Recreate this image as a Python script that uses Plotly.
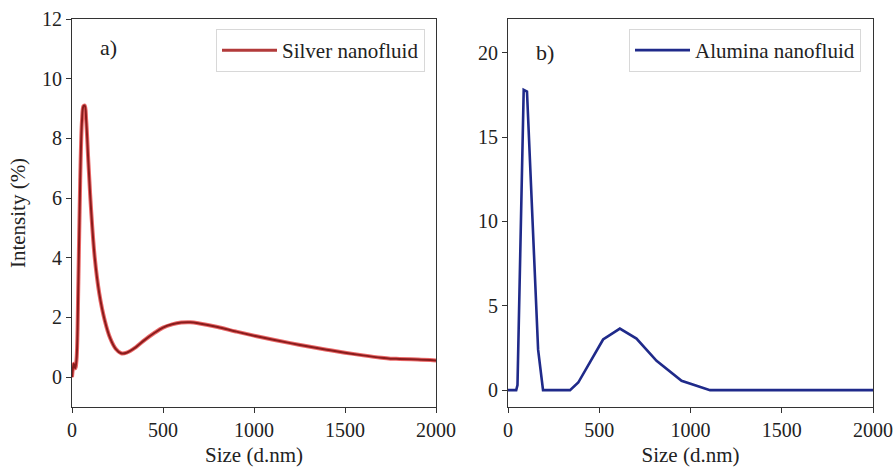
import plotly.graph_objects as go

# Silver nanofluid (panel a)
silver_size = [0, 5, 10, 18, 25, 35, 45, 55, 63, 70, 78, 90, 105, 125, 150, 180, 210, 240,
               270, 300, 350, 400, 450, 500, 550, 600, 650, 700, 800, 900, 1000, 1100,
               1200, 1300, 1400, 1500, 1600, 1700, 1750, 1800, 1900, 2000]
silver_int = [0.0, 0.3, 0.45, 0.3, 0.6, 3.2, 6.6, 8.6, 9.08, 9.1, 8.6, 7.2, 5.6, 4.0, 2.8, 1.9,
              1.3, 0.95, 0.8, 0.82, 1.0, 1.25, 1.47, 1.66, 1.77, 1.83, 1.84, 1.8, 1.68, 1.53,
              1.39, 1.26, 1.14, 1.03, 0.92, 0.82, 0.73, 0.65, 0.62, 0.61, 0.59, 0.56]

# Alumina nanofluid (panel b)
alumina_size = [0, 45, 52, 86, 104, 165, 192, 340, 385, 521, 613, 704, 814, 951, 1107, 2000]
alumina_int = [0.0, 0.0, 0.3, 17.8, 17.7, 2.4, 0.0, 0.0, 0.45, 3.0, 3.65, 3.06, 1.74, 0.55, 0.0, 0.0]

x_ticks = [0, 500, 1000, 1500, 2000]
FONT = "Liberation Serif"
AX = "#333333"

fig = go.Figure()

# silver: light red halo + dark red core
fig.add_trace(go.Scatter(x=silver_size, y=silver_int, mode="lines", line=dict(color="rgba(225,40,40,0.7)", width=4),
                         line_shape="spline", showlegend=False, hoverinfo="skip", xaxis="x", yaxis="y"))
fig.add_trace(go.Scatter(x=silver_size, y=silver_int, mode="lines", name="Silver nanofluid",
                         line=dict(color="#8a1c1c", width=2), line_shape="spline",
                         xaxis="x", yaxis="y", showlegend=False, hoverinfo="skip"))
# legend entry for silver (line sample in the lighter red of the reference legend)
fig.add_trace(go.Scatter(x=[None], y=[None], mode="lines", name="Silver nanofluid",
                         line=dict(color="#b23a3a", width=3), xaxis="x", yaxis="y", legend="legend"))
fig.add_trace(go.Scatter(x=alumina_size, y=alumina_int, mode="lines", name="Alumina nanofluid",
                         line=dict(color="#1f2a8a", width=2.6),
                         xaxis="x2", yaxis="y2", legend="legend2"))

axis_common = dict(showline=True, mirror=True, linecolor=AX, linewidth=1, ticks="outside",
                   ticklen=5, tickcolor=AX, showgrid=False, zeroline=False,
                   tickfont=dict(family=FONT, size=20, color="#222"))

fig.update_layout(
    width=893, height=467, margin=dict(l=0, r=0, t=0, b=0),
    paper_bgcolor="white", plot_bgcolor="white",
    font=dict(family=FONT, size=20, color="#222"),
    xaxis=dict(domain=[72/893, 436/893], range=[0, 2000], tickvals=x_ticks,
               title=dict(text="Size (d.nm)", standoff=9, font=dict(family=FONT, size=21)),
               anchor="y", automargin=False, **axis_common),
    yaxis=dict(domain=[1-407/467, 1-19/467], range=[-1, 12], tickvals=[0, 2, 4, 6, 8, 10, 12],
               title=dict(text="Intensity (%)", standoff=10, font=dict(family=FONT, size=21)),
               anchor="x", automargin=False, **axis_common),
    xaxis2=dict(domain=[508/893, 873/893], range=[0, 2000], tickvals=x_ticks,
                title=dict(text="Size (d.nm)", standoff=9, font=dict(family=FONT, size=21)),
                anchor="y2", automargin=False, **axis_common),
    yaxis2=dict(domain=[1-407/467, 1-19/467], range=[-1, 22], tickvals=[0, 5, 10, 15, 20],
                anchor="x2", automargin=False, **axis_common),
    legend=dict(x=425/893, y=1-29/467, xanchor="right", yanchor="top", bgcolor="white",
                bordercolor="#d8d8d8", borderwidth=1, itemwidth=55,
                font=dict(family=FONT, size=21)),
    legend2=dict(x=861/893, y=1-29/467, xanchor="right", yanchor="top", bgcolor="white",
                 bordercolor="#d8d8d8", borderwidth=1, itemwidth=55,
                 font=dict(family=FONT, size=21)),
    annotations=[
        dict(text="a)", x=200, y=11.05, xref="x", yref="y", showarrow=False,
             font=dict(family=FONT, size=22, color="#222")),
        dict(text="b)", x=205, y=20.0, xref="x2", yref="y2", showarrow=False,
             font=dict(family=FONT, size=22, color="#222")),
    ],
)

fig.write_html("out.html")
